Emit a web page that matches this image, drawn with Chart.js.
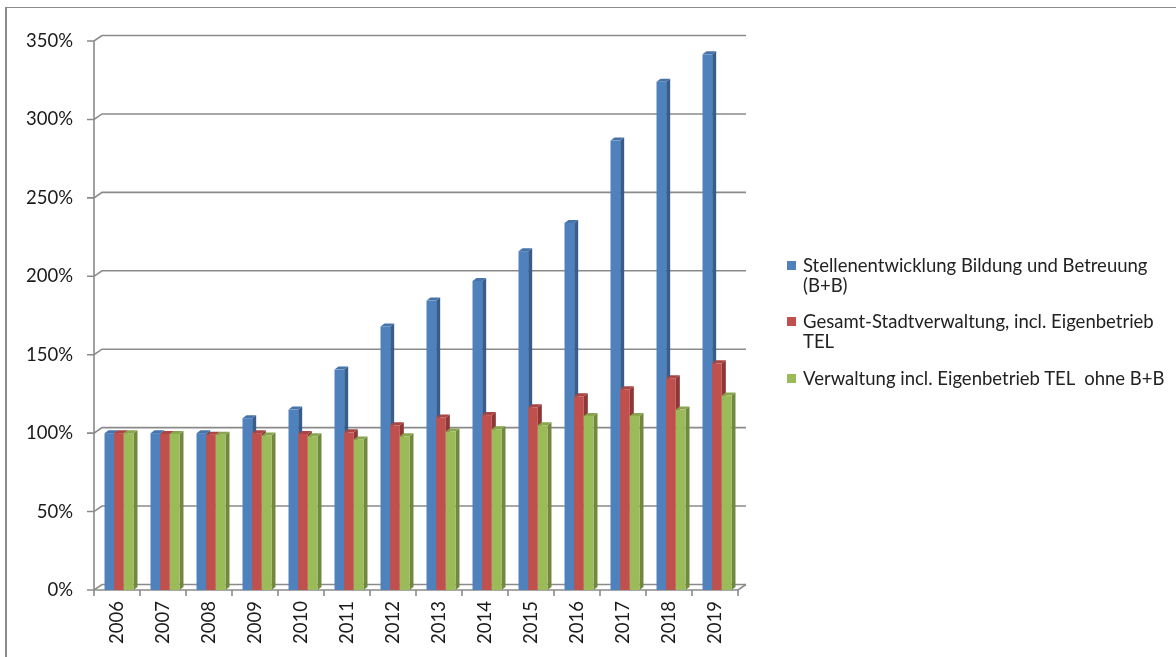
<!DOCTYPE html>
<html>
<head>
<meta charset="utf-8">
<script src="https://cdn.jsdelivr.net/npm/chart.js@4.4.1/dist/chart.umd.min.js"></script>
<style>
    html, body { margin: 0; padding: 0; background: #fff; }
    #wrap { position: relative; width: 1176px; height: 657px; overflow: hidden; }
    #moldura { position: absolute; left: 5px; top: 7px; right: 0; bottom: 0; border-left: 2px solid #8a8a8a; border-top: 1px solid #8a8a8a; pointer-events: none; }
    .item { position: absolute; left: 787px; padding-left: 16px; white-space: pre; line-height: 19.5px; font-family: Lato, sans-serif; font-size: 18.5px; color: #222; }
    .marca { position: absolute; left: 0; top: 5px; width: 9px; height: 9px; }
</style>
</head>
<body>
<div id="wrap">
    <canvas id="meuGrafico" width="1176" height="657"></canvas>
    <div id="moldura"></div>
    <div id="legenda"></div>
</div>
<script>
// Dados do gráfico
const anos = ['2006', '2007', '2008', '2009', '2010', '2011', '2012', '2013', '2014', '2015', '2016', '2017', '2018', '2019'];
const serieBB = [100, 100, 100, 109.5, 115, 140.5, 168, 184.5, 197, 216, 234, 286.5, 324, 341.5];
const serieGesamt = [100, 99.5, 99, 100, 99.5, 100.5, 105, 110, 111.5, 116.5, 123.5, 128, 135, 144.5];
const serieVerwaltung = [100, 99.5, 99, 98.5, 98, 96, 98, 101, 102.5, 105, 111, 111, 115, 124];
const nomesSeries = [
    'Stellenentwicklung Bildung und Betreuung\n(B+B)',
    'Gesamt-Stadtverwaltung, incl. Eigenbetrieb\nTEL',
    'Verwaltung incl. Eigenbetrieb TEL  ohne B+B'
];
const ticksY = [0, 50, 100, 150, 200, 250, 300, 350];

// Cores (frente, lateral, topo)
const coresFrente = ['#4f81bd', '#c0504d', '#9bbb59'];
const coresLado = ['#385d8a', '#8c3836', '#71893f'];
const coresTopo = ['#4673aa', '#a94643', '#88a64d'];

const fonte = { family: 'Lato, sans-serif', size: 18.5 };
const corTexto = '#1a1a1a';
const corEixo = '#8a8a8a';

// profundidade da grade e das barras
const grade = { dx: 8, dy: -5.5 };
const barra3d = { dx: 4, dy: -3 };

// Plugin que desenha a grade em perspectiva e as barras 3D
const efeito3d = {
    id: 'efeito3d',
    beforeDatasetsDraw(chart) {
        const ctx = chart.ctx;
        const area = chart.chartArea;
        const escY = chart.scales.y;
        const escX = chart.scales.x;
        ctx.save();
        ctx.strokeStyle = corEixo;
        ctx.lineWidth = 1.6;

        // linhas de grade com a diagonal até a parede do fundo
        ticksY.forEach(function (v) {
            const py = escY.getPixelForValue(v);
            ctx.beginPath();
            ctx.moveTo(area.left - 7, py);
            ctx.lineTo(area.left, py);
            ctx.lineTo(area.left + grade.dx, py + grade.dy);
            ctx.lineTo(area.right + grade.dx, py + grade.dy);
            ctx.stroke();
        });

        // eixo vertical da frente
        ctx.beginPath();
        ctx.moveTo(area.left, escY.getPixelForValue(ticksY[ticksY.length - 1]));
        ctx.lineTo(area.left, area.bottom);
        ctx.stroke();

        // eixo horizontal da frente
        ctx.beginPath();
        ctx.moveTo(area.left, area.bottom);
        ctx.lineTo(area.right, area.bottom);
        ctx.lineTo(area.right + grade.dx, area.bottom + grade.dy);
        ctx.stroke();

        // marcas entre as categorias
        const limites = [area.left];
        for (let i = 1; i < anos.length; i++) {
            limites.push((escX.getPixelForValue(i - 1) + escX.getPixelForValue(i)) / 2);
        }
        limites.push(area.right);
        limites.forEach(function (px) {
            ctx.beginPath();
            ctx.moveTo(px, area.bottom);
            ctx.lineTo(px, area.bottom + 6);
            ctx.stroke();
        });
        ctx.restore();
    },
    afterDatasetsDraw(chart) {
        const ctx = chart.ctx;
        const metas = chart.data.datasets.map((d, i) => chart.getDatasetMeta(i));
        ctx.save();
        for (let j = 0; j < anos.length; j++) {
            metas.forEach(function (meta, i) {
                const p = meta.data[j].getProps(['x', 'y', 'base', 'width'], true);
                const esq = p.x - p.width / 2 + 2;
                const dir = p.x + p.width / 2 + 2;

                // lateral
                ctx.fillStyle = coresLado[i];
                ctx.beginPath();
                ctx.moveTo(dir, p.y);
                ctx.lineTo(dir + barra3d.dx, p.y + barra3d.dy);
                ctx.lineTo(dir + barra3d.dx, p.base + barra3d.dy);
                ctx.lineTo(dir, p.base);
                ctx.closePath();
                ctx.fill();

                // topo
                ctx.fillStyle = coresTopo[i];
                ctx.beginPath();
                ctx.moveTo(esq, p.y);
                ctx.lineTo(esq + barra3d.dx, p.y + barra3d.dy);
                ctx.lineTo(dir + barra3d.dx, p.y + barra3d.dy);
                ctx.lineTo(dir, p.y);
                ctx.closePath();
                ctx.fill();

                // frente
                ctx.fillStyle = coresFrente[i];
                ctx.fillRect(esq, p.y, p.width, p.base - p.y);
            });
        }
        ctx.restore();
    }
};

// Função para criar o gráfico
function criarGrafico() {
    const config = {
        type: 'bar',
        data: {
            labels: anos,
            datasets: [
                { label: nomesSeries[0], data: serieBB, backgroundColor: 'rgba(0,0,0,0)' },
                { label: nomesSeries[1], data: serieGesamt, backgroundColor: 'rgba(0,0,0,0)' },
                { label: nomesSeries[2], data: serieVerwaltung, backgroundColor: 'rgba(0,0,0,0)' }
            ]
        },
        options: {
            responsive: false,
            animation: false,
            layout: { padding: { top: 41, right: 438, left: 0, bottom: 0 } },
            datasets: { bar: { categoryPercentage: 0.63, barPercentage: 1.0, borderWidth: 0 } },
            scales: {
                x: {
                    grid: { display: false, drawTicks: false },
                    border: { display: false },
                    ticks: { minRotation: 90, maxRotation: 90, padding: 11, color: corTexto, font: fonte },
                    afterFit: function (s) { s.height = 67; }
                },
                y: {
                    min: 0,
                    max: 350,
                    grid: { display: false, drawTicks: false },
                    border: { display: false },
                    afterBuildTicks: function (s) { s.ticks = ticksY.map(v => ({ value: v })); },
                    ticks: {
                        padding: 21,
                        color: corTexto,
                        font: fonte,
                        callback: function (v) { return v + '%'; }
                    },
                    afterFit: function (s) { s.width = 94; }
                }
            },
            plugins: {
                legend: { display: false },
                tooltip: { enabled: false }
            }
        },
        plugins: [efeito3d]
    };
    return new Chart(document.getElementById('meuGrafico'), config);
}

// Legenda em HTML (com quebra de linha como na imagem)
function criarLegenda() {
    const topos = [256, 312, 369];
    const legenda = document.getElementById('legenda');
    nomesSeries.forEach(function (nome, i) {
        const item = document.createElement('div');
        item.className = 'item';
        item.style.top = topos[i] + 'px';
        const marca = document.createElement('span');
        marca.className = 'marca';
        marca.style.background = coresFrente[i];
        item.appendChild(marca);
        item.appendChild(document.createTextNode(nome));
        legenda.appendChild(item);
    });
}

let meuGrafico = criarGrafico();
criarLegenda();
</script>
</body>
</html>
